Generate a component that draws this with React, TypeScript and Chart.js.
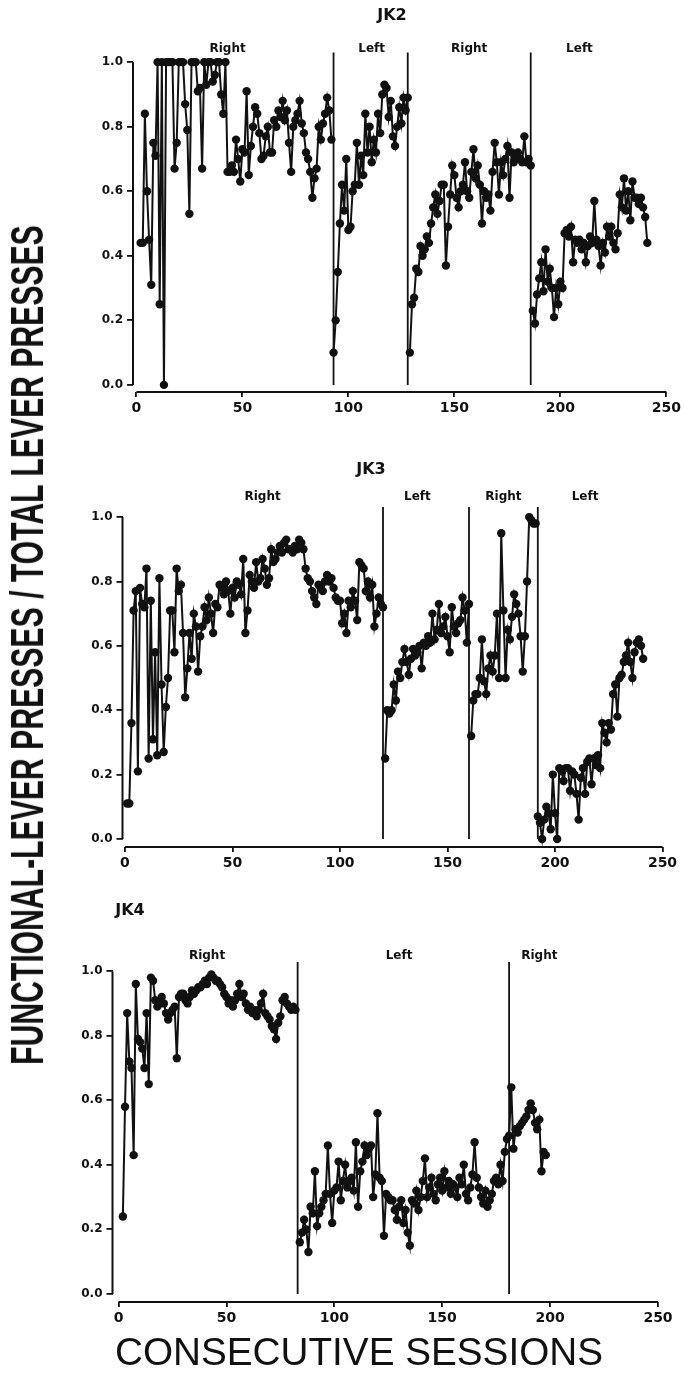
import React, { useEffect, useLayoutEffect, useRef } from "react";
import { Chart, registerables } from "chart.js";

Chart.register(...registerables);

// ---------- shared text / ticks ----------
const X_TICKS = [0, 50, 100, 150, 200, 250];
const Y_TICKS = [0, 0.2, 0.4, 0.6, 0.8, 1.0];
const Y_AXIS_TITLE = "FUNCTIONAL-LEVER PRESSES / TOTAL LEVER PRESSES";
const X_AXIS_TITLE = "CONSECUTIVE SESSIONS";

// ---------- JK2 ----------
const JK2_TITLE = "JK2";
const JK2_PHASE_LABELS = ["Right", "Left", "Right", "Left"];
const JK2_LABEL_SESSIONS = [43, 111, 157, 209];
const JK2_DIVIDERS = [93, 128, 186];
const JK2_STARTS = [2, 93, 129, 187];
const JK2_RIGHT_1 = [
  0.44, 0.44, 0.84, 0.6, 0.45, 0.31, 0.75, 0.71, 1.0, 0.25, 1.0, 0.0, 1.0, 1.0, 1.0, 1.0,
  0.67, 0.75, 1.0, 1.0, 1.0, 0.87, 0.79, 0.53, 1.0, 1.0, 1.0, 0.91, 0.92, 0.67, 1.0, 0.93,
  1.0, 1.0, 0.94, 0.96, 1.0, 1.0, 0.9, 0.84, 1.0, 0.66,
  0.66, 0.68, 0.66, 0.76, 0.7, 0.63, 0.73, 0.72, 0.91, 0.65, 0.74, 0.8, 0.86, 0.84, 0.78, 0.7,
  0.71, 0.77, 0.8, 0.72, 0.72, 0.82, 0.8, 0.85, 0.83, 0.88, 0.82, 0.85, 0.75, 0.66, 0.8, 0.82,
  0.84, 0.88, 0.81, 0.78, 0.72, 0.7, 0.66, 0.58, 0.64, 0.67, 0.8, 0.76, 0.81, 0.84, 0.89, 0.85,
  0.76,
];
const JK2_LEFT_1 = [
  0.1, 0.2, 0.35, 0.5, 0.62, 0.54, 0.7, 0.48, 0.49, 0.6, 0.62, 0.75, 0.62, 0.71, 0.65, 0.84,
  0.72, 0.8, 0.69, 0.76, 0.72, 0.84, 0.78, 0.9, 0.93, 0.92, 0.83, 0.88, 0.77, 0.74, 0.8, 0.86,
  0.81, 0.89, 0.85, 0.89,
];
const JK2_RIGHT_2 = [
  0.1, 0.25, 0.27, 0.36, 0.35, 0.43, 0.4, 0.42, 0.46, 0.44, 0.5, 0.55, 0.59, 0.53, 0.57, 0.62,
  0.62, 0.37, 0.49, 0.59, 0.68, 0.65, 0.58, 0.55, 0.6, 0.62, 0.69, 0.6, 0.58, 0.66, 0.73, 0.64,
  0.68, 0.62, 0.5, 0.6, 0.58, 0.59, 0.54, 0.66, 0.75, 0.69, 0.59, 0.69, 0.65, 0.7, 0.74, 0.58,
  0.72, 0.69, 0.7, 0.72, 0.7, 0.69, 0.77, 0.69, 0.7, 0.68,
];
const JK2_LEFT_2 = [
  0.23, 0.19, 0.28, 0.33, 0.38, 0.29, 0.42, 0.32, 0.36, 0.3, 0.21, 0.3, 0.25, 0.32, 0.3, 0.47,
  0.48, 0.46, 0.49, 0.38, 0.45, 0.44, 0.45, 0.42, 0.44, 0.38, 0.43, 0.46, 0.44, 0.57, 0.45, 0.43,
  0.37, 0.44, 0.41, 0.49, 0.46, 0.49, 0.44, 0.42, 0.47, 0.59, 0.55, 0.64, 0.54, 0.6, 0.51, 0.63,
  0.58, 0.58, 0.56, 0.58, 0.55, 0.52, 0.44,
];

// ---------- JK3 ----------
const JK3_TITLE = "JK3";
const JK3_PHASE_LABELS = ["Right", "Left", "Right", "Left"];
const JK3_LABEL_SESSIONS = [64, 136, 176, 214];
const JK3_DIVIDERS = [120, 160, 192];
const JK3_STARTS = [1, 121, 161, 192];
const JK3_RIGHT_1 = [
  0.11, 0.11, 0.36, 0.71, 0.77, 0.21, 0.78, 0.73, 0.72, 0.84, 0.25, 0.74, 0.31, 0.58, 0.26, 0.81,
  0.48, 0.27, 0.41, 0.5, 0.71, 0.71, 0.58, 0.84, 0.77, 0.79, 0.64, 0.44, 0.53, 0.64, 0.56, 0.7,
  0.66, 0.52, 0.63, 0.66, 0.72, 0.68, 0.75, 0.7, 0.64, 0.73, 0.72, 0.79, 0.78, 0.76, 0.8, 0.77,
  0.7, 0.78, 0.75, 0.8, 0.79, 0.76, 0.87, 0.64, 0.71, 0.82, 0.8, 0.78, 0.86, 0.8, 0.81, 0.87,
  0.84, 0.79, 0.81, 0.9, 0.86, 0.87, 0.89, 0.91, 0.89, 0.92, 0.93, 0.9, 0.9, 0.89, 0.91, 0.9,
  0.93, 0.92, 0.9, 0.84, 0.81, 0.8, 0.77, 0.75, 0.73, 0.79, 0.78, 0.77, 0.8, 0.82, 0.8, 0.81,
  0.78, 0.75, 0.74, 0.74, 0.67, 0.7, 0.64, 0.74, 0.72, 0.77, 0.74, 0.68, 0.86, 0.85, 0.84, 0.77,
  0.8, 0.75, 0.79, 0.66, 0.7, 0.75, 0.73, 0.72,
];
const JK3_LEFT_1 = [
  0.25, 0.4, 0.39, 0.4, 0.48, 0.43, 0.52, 0.5, 0.55, 0.59, 0.55, 0.51, 0.56, 0.59, 0.57, 0.58,
  0.6, 0.53, 0.61, 0.6, 0.63, 0.61, 0.7, 0.62, 0.65, 0.73, 0.64, 0.66, 0.69, 0.63, 0.58, 0.72,
  0.66, 0.64, 0.67, 0.68, 0.75, 0.71, 0.61, 0.73,
];
const JK3_RIGHT_2 = [
  0.32, 0.43, 0.45, 0.45, 0.5, 0.62, 0.49, 0.45, 0.53, 0.57, 0.52, 0.57, 0.7, 0.5, 0.95, 0.71,
  0.5, 0.65, 0.62, 0.69, 0.76, 0.73, 0.7, 0.63, 0.52, 0.63, 0.8, 1.0, 0.99, 0.98, 0.98,
];
const JK3_LEFT_2 = [
  0.07, 0.05, 0.0, 0.06, 0.1, 0.08, 0.03, 0.2, 0.08, 0.0, 0.22, 0.21, 0.18, 0.22, 0.22, 0.15,
  0.21, 0.2, 0.14, 0.06, 0.19, 0.22, 0.14, 0.24, 0.25, 0.17, 0.25, 0.23, 0.26, 0.22, 0.36, 0.33,
  0.3, 0.36, 0.34, 0.45, 0.48, 0.38, 0.5, 0.51, 0.55, 0.57, 0.61, 0.55, 0.5, 0.58, 0.61, 0.62,
  0.6, 0.56,
];

// ---------- JK4 ----------
const JK4_TITLE = "JK4";
const JK4_PHASE_LABELS = ["Right", "Left", "Right"];
const JK4_LABEL_SESSIONS = [41, 130, 195];
const JK4_DIVIDERS = [83, 181];
const JK4_STARTS = [2, 84, 181];
const JK4_RIGHT_1 = [
  0.24, 0.58, 0.87, 0.72, 0.7, 0.43, 0.96, 0.79, 0.78, 0.76, 0.7, 0.87, 0.65, 0.98, 0.97, 0.91,
  0.89, 0.9, 0.92, 0.9, 0.87, 0.85, 0.87, 0.88, 0.89, 0.73, 0.92, 0.93, 0.93, 0.91, 0.9, 0.92,
  0.94, 0.93, 0.94, 0.95, 0.95, 0.96, 0.97, 0.96, 0.98, 0.99, 0.98, 0.97, 0.97, 0.96, 0.95, 0.93,
  0.92, 0.9, 0.91, 0.89, 0.91, 0.93, 0.96, 0.92, 0.93, 0.9, 0.88, 0.89, 0.87, 0.88, 0.86, 0.88,
  0.9, 0.93, 0.87, 0.86, 0.85, 0.83, 0.82, 0.79, 0.84, 0.86, 0.91, 0.92, 0.9, 0.89, 0.88, 0.89,
  0.88,
];
const JK4_LEFT_1 = [
  0.16, 0.19, 0.23, 0.2, 0.13, 0.27, 0.25, 0.38, 0.21, 0.25, 0.27, 0.29, 0.31, 0.46, 0.31, 0.22,
  0.32, 0.33, 0.41, 0.29, 0.35, 0.4, 0.33, 0.35, 0.36, 0.32, 0.47, 0.27, 0.38, 0.41, 0.46, 0.43,
  0.45, 0.46, 0.3, 0.37, 0.56, 0.36, 0.35, 0.18, 0.31, 0.3, 0.29, 0.29, 0.26, 0.23, 0.27, 0.29,
  0.22, 0.26, 0.19, 0.15, 0.29, 0.28, 0.32, 0.26, 0.3, 0.35, 0.42, 0.3, 0.33, 0.36, 0.31, 0.29,
  0.34, 0.36, 0.32, 0.38, 0.33, 0.35, 0.31, 0.34, 0.33, 0.3, 0.36, 0.34, 0.4, 0.31, 0.29, 0.33,
  0.37, 0.47, 0.36, 0.33, 0.3, 0.28, 0.32, 0.27, 0.29, 0.31, 0.35, 0.36, 0.34, 0.4, 0.35, 0.44,
  0.48,
];
const JK4_RIGHT_2 = [
  0.49, 0.64, 0.45, 0.51, 0.5, 0.52, 0.53, 0.54, 0.55, 0.57, 0.59, 0.57, 0.53, 0.51, 0.54, 0.38,
  0.44, 0.43,
];

// ---------- layout (positions only) ----------
type Layout = {
  top: number; height: number;
  padTop: number; padRight: number;
  yWidth: number; xHeight: number;
  xMin: number; yMin: number; yMax: number;
  titleX: number; titleY: number;
  labelY: number; dividerTop: number;
};

const PANELS = [
  {
    title: JK2_TITLE, labels: JK2_PHASE_LABELS, labelAt: JK2_LABEL_SESSIONS,
    dividers: JK2_DIVIDERS, starts: JK2_STARTS,
    series: [JK2_RIGHT_1, JK2_LEFT_1, JK2_RIGHT_2, JK2_LEFT_2],
    layout: {
      top: 0, height: 430, padTop: 46, padRight: 16, yWidth: 133, xHeight: 38,
      xMin: -1.6, yMin: -0.022, yMax: 1.05, titleX: 392, titleY: 16, labelY: 1.04, dividerTop: 1.03,
    } as Layout,
  },
  {
    title: JK3_TITLE, labels: JK3_PHASE_LABELS, labelAt: JK3_LABEL_SESSIONS,
    dividers: JK3_DIVIDERS, starts: JK3_STARTS,
    series: [JK3_RIGHT_1, JK3_LEFT_1, JK3_RIGHT_2, JK3_LEFT_2],
    layout: {
      top: 440, height: 450, padTop: 61, padRight: 21.5, yWidth: 122.5, xHeight: 43,
      xMin: -1.16, yMin: -0.025, yMax: 1.05, titleX: 371, titleY: 30, labelY: 1.062, dividerTop: 1.031,
    } as Layout,
  },
  {
    title: JK4_TITLE, labels: JK4_PHASE_LABELS, labelAt: JK4_LABEL_SESSIONS,
    dividers: JK4_DIVIDERS, starts: JK4_STARTS,
    series: [JK4_RIGHT_1, JK4_LEFT_1, JK4_RIGHT_2],
    layout: {
      top: 890, height: 450, padTop: 65, padRight: 26, yWidth: 112.5, xHeight: 38,
      xMin: -2.8, yMin: -0.025, yMax: 1.05, titleX: 130, titleY: 21, labelY: 1.047, dividerTop: 1.028,
    } as Layout,
  },
];

const INK = "#111";
const TICK_FONT = "'DejaVu Sans', sans-serif";

function Panel({ panel }: { panel: (typeof PANELS)[number] }) {
  const ref = useRef<HTMLCanvasElement | null>(null);
  const L = panel.layout;

  useEffect(() => {
    const canvas = ref.current!;
    const datasets: any[] = [];
    panel.dividers.forEach((d) => {
      datasets.push({
        data: [{ x: d, y: 0 }, { x: d, y: L.dividerTop }],
        borderColor: INK, borderWidth: 1.8, pointRadius: 0, fill: false,
      });
    });
    panel.series.forEach((vals, k) => {
      datasets.push({
        data: vals.map((v, i) => ({ x: panel.starts[k] + i, y: v })),
        borderColor: INK, backgroundColor: INK, borderWidth: 2,
        pointRadius: 4.2, pointBackgroundColor: INK, pointBorderWidth: 0, fill: false,
      });
    });

    const decor = {
      id: "decor",
      afterDraw(chart: any) {
        const ctx = chart.ctx;
        const xs = chart.scales.x, ys = chart.scales.y;
        const ca = chart.chartArea;
        ctx.save();
        ctx.strokeStyle = INK;
        ctx.lineWidth = 2;
        ctx.beginPath();
        ctx.moveTo(ca.left, ys.getPixelForValue(0));
        ctx.lineTo(ca.left, ys.getPixelForValue(1.0));
        ctx.moveTo(xs.getPixelForValue(0), ca.bottom);
        ctx.lineTo(xs.getPixelForValue(250), ca.bottom);
        ctx.stroke();
        ctx.fillStyle = INK;
        ctx.textAlign = "center";
        ctx.textBaseline = "middle";
        ctx.font = "bold 16px 'DejaVu Sans', sans-serif";
        ctx.fillText(panel.title, L.titleX, L.titleY);
        ctx.font = "bold 12px 'DejaVu Sans', sans-serif";
        panel.labels.forEach((lab, i) => {
          ctx.fillText(lab, xs.getPixelForValue(panel.labelAt[i]), ys.getPixelForValue(L.labelY));
        });
        ctx.restore();
      },
    };

    const chart = new Chart(canvas, {
      type: "line",
      data: { datasets },
      plugins: [decor],
      options: {
        animation: false,
        responsive: false,
        maintainAspectRatio: false,
        layout: { padding: { top: L.padTop, right: L.padRight, left: 0, bottom: 0 } },
        plugins: { legend: { display: false }, tooltip: { enabled: false }, title: { display: false } },
        elements: { line: { tension: 0 } },
        scales: {
          x: {
            type: "linear", min: L.xMin, max: 250,
            afterBuildTicks: (s: any) => { s.ticks = X_TICKS.map((v) => ({ value: v })); },
            afterFit: (s: any) => { s.height = L.xHeight; },
            border: { display: false },
            grid: { drawOnChartArea: false, drawTicks: true, tickLength: 5, color: INK, lineWidth: 1.8 },
            ticks: {
              color: INK, padding: 3, maxRotation: 0, autoSkip: false,
              font: { family: TICK_FONT, weight: "bold", size: 14 },
              callback: (v: any) => String(v),
            },
          },
          y: {
            type: "linear", min: L.yMin, max: L.yMax,
            afterBuildTicks: (s: any) => { s.ticks = Y_TICKS.map((v) => ({ value: v })); },
            afterFit: (s: any) => { s.width = L.yWidth; },
            border: { display: false },
            grid: { drawOnChartArea: false, drawTicks: true, tickLength: 6, color: INK, lineWidth: 1.8 },
            ticks: {
              color: INK, padding: 4, autoSkip: false,
              font: { family: TICK_FONT, weight: "bold", size: 12 },
              callback: (v: any) => Number(v).toFixed(1),
            },
          },
        },
      },
    });
    return () => chart.destroy();
  }, []);

  return (
    <canvas
      ref={ref}
      width={684}
      height={L.height}
      style={{ position: "absolute", left: 0, top: L.top, width: 684, height: L.height }}
    />
  );
}

function FitText({ text, cx, cy, length, rotate, style }: any) {
  const ref = useRef<HTMLDivElement | null>(null);
  useLayoutEffect(() => {
    const el = ref.current!;
    const w = el.offsetWidth;
    const sx = length / w;
    el.style.transform = `translate(-50%, -50%) rotate(${rotate}deg) scaleX(${sx})`;
  }, []);
  return (
    <div
      ref={ref}
      style={{
        position: "absolute", left: cx, top: cy, whiteSpace: "nowrap", lineHeight: 1,
        transform: `translate(-50%, -50%) rotate(${rotate}deg)`, color: INK, ...style,
      }}
    >
      {text}
    </div>
  );
}

export default function App() {
  return (
    <div style={{ position: "absolute", left: 0, top: 0, width: 684, height: 1384, background: "#fff", overflow: "hidden" }}>
      {PANELS.map((p, i) => (
        <Panel key={i} panel={p} />
      ))}
      <FitText
        text={Y_AXIS_TITLE}
        cx={27}
        cy={645}
        length={840}
        rotate={-90}
        style={{ fontFamily: "'Liberation Sans Narrow', 'Liberation Sans', Arial, sans-serif", fontWeight: "bold", fontSize: 46 }}
      />
      <FitText
        text={X_AXIS_TITLE}
        cx={359}
        cy={1351}
        length={488}
        rotate={0}
        style={{ fontFamily: "'Liberation Sans', Arial, sans-serif", fontSize: 39 }}
      />
    </div>
  );
}
